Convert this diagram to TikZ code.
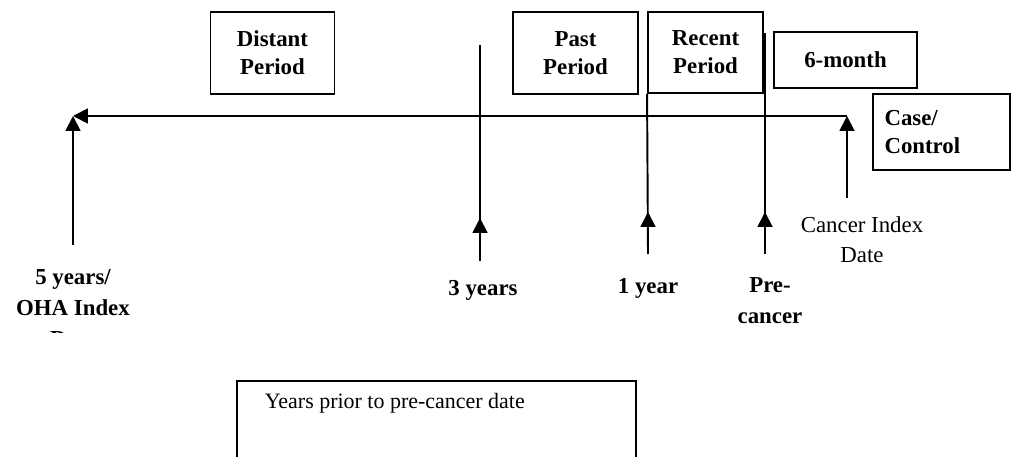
\documentclass[tikz,border=0pt]{standalone}
\usepackage{fontspec}
\setmainfont{Liberation Serif}
\usetikzlibrary{arrows.meta}

\begin{document}
\begin{tikzpicture}[x=0.02cm,y=-0.02cm,line width=1.1pt,
    period/.style={draw,inner sep=0pt,align=center,font=\fontsize{13pt}{16pt}\selectfont\bfseries},
    when/.style={align=center,font=\fontsize{13pt}{17.5pt}\selectfont\bfseries},
    uptip/.style={-{Triangle[length=8.5pt,width=8.5pt]}}]
\clip (0,0) rectangle (1013,456);
% period boxes
\node[period,minimum width=2.48cm,minimum height=1.64cm] (distant) at (272.5,53) {Distant\\Period};
\node[period,minimum width=2.5cm,minimum height=1.64cm] (past) at (575.5,53) {Past\\Period};
\node[period,minimum width=2.3cm,minimum height=1.62cm] (recent) at (705.5,52.5) {Recent\\Period};
\node[period,minimum width=2.86cm,minimum height=1.12cm] (sixmonth) at (845.5,60) {6-month};
\node[period,align=left,minimum width=2.74cm,minimum height=1.52cm,
      text width=2.28cm,inner xsep=0.23cm] (casectl) at (941.5,132) {Case/\\Control};
% time line
\coordinate (t5) at (73,116);
\coordinate (tidx) at (847,116);
\coordinate (t5low) at (73,245);
\coordinate (tidxlow) at (847,198);
\draw[uptip] (tidx) -- (t5);
\draw[uptip] (t5low) -- (t5);
\draw[uptip] (tidxlow) -- (tidx);
% year marks
\coordinate (t3top) at (480,45);
\coordinate (t3) at (480,218);
\coordinate (t3low) at (480,261);
\draw (t3top) -- (t3low);
\draw[uptip] (t3low) -- (t3);
\coordinate (t1) at (648,212);
\coordinate (t1low) at (648,254);
\draw (recent.south west) -- (t1low);
\draw[uptip] (t1low) -- (t1);
\coordinate (tpretop) at (765,33);
\coordinate (tpre) at (765,212);
\coordinate (tprelow) at (765,254);
\draw (tpretop) -- (tprelow);
\draw[uptip] (tprelow) -- (tpre);
% labels
\begin{scope}
\clip (0,0) rectangle (200,332);
\node[when] (l5) at (73,308) {5 years/\\OHA Index\\Date};
\end{scope}
\node[when] (l3) at (483,290) {3 years};
\node[when] (l1) at (648,288) {1 year};
\node[when] (lpre) at (770,301) {Pre-\\cancer};
\node[align=center,font=\fontsize{13pt}{17pt}\selectfont] (lidx) at (862,240) {Cancer Index\\Date};
% bottom box
\node[draw,minimum width=7.98cm,minimum height=2cm,anchor=north west] (yrbox) at (236,380) {};
\node[anchor=west,font=\fontsize{12.5pt}{15pt}\selectfont] (yrtext) at (258,403) {Years prior to pre-cancer date};
\end{tikzpicture}
\end{document}
